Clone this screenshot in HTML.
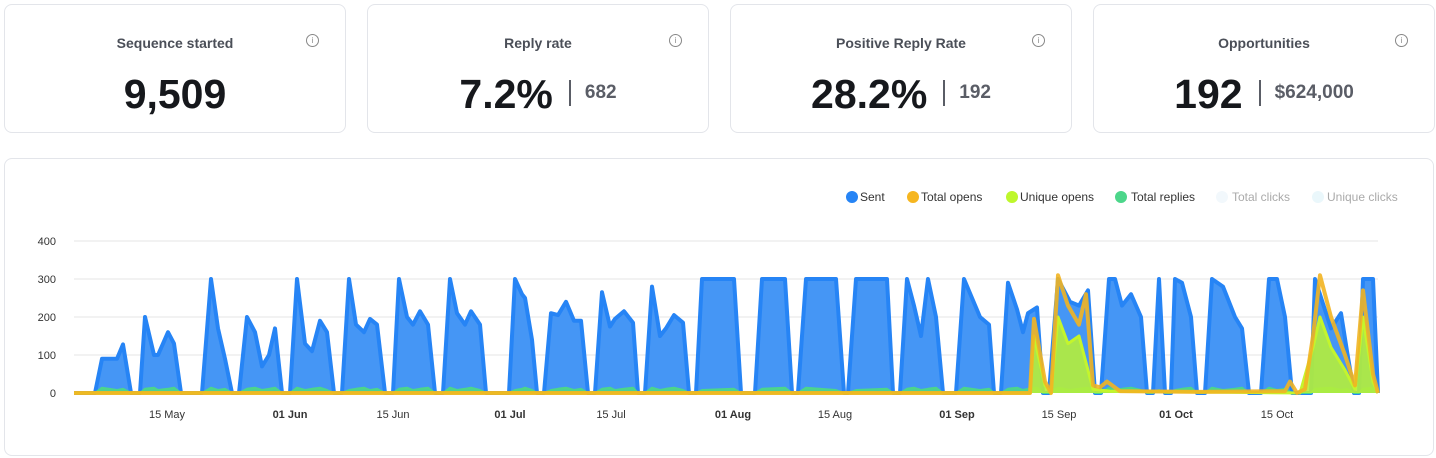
<!DOCTYPE html>
<html><head><meta charset="utf-8"><style>
body{margin:0;width:1436px;height:458px;background:#fff;font-family:"Liberation Sans",sans-serif;position:relative;overflow:hidden}
.card{position:absolute;top:4px;width:342px;height:129px;border:1px solid #e3e5ea;border-radius:8px;box-sizing:border-box;background:#fff}
.t{position:absolute;top:30px;left:0;right:0;text-align:center;font-size:14px;font-weight:bold;color:#4b4f58}
.i{position:absolute;top:29px;right:26px;width:11px;height:11px;border:1px solid #888;border-radius:50%;font-size:8px;line-height:11px;text-align:center;color:#888}
.v{position:absolute;top:66px;left:0;right:0;text-align:center;font-size:41px;font-weight:bold;color:#16181c;white-space:nowrap}
.v span.s{font-size:19px;color:#5a5d66;vertical-align:middle;position:relative;top:-4px}
.v span.b{display:inline-block;width:2px;height:26px;background:#5a5d66;margin:0 14px 0 16px;vertical-align:middle;position:relative;top:-4px}
.chart{position:absolute;left:4px;top:158px;width:1430px;height:298px;border:1px solid #e3e5ea;border-radius:8px;box-sizing:border-box}
</style></head><body>
<div class="card" style="left:4px"><div class="t">Sequence started</div><div class="i">i</div><div class="v">9,509</div></div>
<div class="card" style="left:367px"><div class="t">Reply rate</div><div class="i">i</div><div class="v">7.2%<span class="b"></span><span class="s">682</span></div></div>
<div class="card" style="left:730px"><div class="t">Positive Reply Rate</div><div class="i">i</div><div class="v">28.2%<span class="b"></span><span class="s">192</span></div></div>
<div class="card" style="left:1093px"><div class="t">Opportunities</div><div class="i">i</div><div class="v">192<span class="b"></span><span class="s">$624,000</span></div></div>
<div class="chart"></div>
<svg id="s" width="1436" height="458" style="position:absolute;left:0;top:0" font-family="Liberation Sans, sans-serif">
<g stroke="#e6e6e6" stroke-width="1">
<line x1="74" x2="1378" y1="241" y2="241"/><line x1="74" x2="1378" y1="279" y2="279"/><line x1="74" x2="1378" y1="317" y2="317"/><line x1="74" x2="1378" y1="355" y2="355"/>
</g>
<g font-size="11" fill="#333" text-anchor="end">
<text x="56" y="245">400</text><text x="56" y="283">300</text><text x="56" y="321">200</text><text x="56" y="359">100</text><text x="56" y="397">0</text>
</g>
<g id="series"></g>
<g font-size="11" fill="#333" text-anchor="middle">
<text x="167" y="418">15 May</text><text x="290" y="418" font-weight="bold">01 Jun</text><text x="393" y="418">15 Jun</text><text x="510" y="418" font-weight="bold">01 Jul</text><text x="611" y="418">15 Jul</text><text x="733" y="418" font-weight="bold">01 Aug</text><text x="835" y="418">15 Aug</text><text x="957" y="418" font-weight="bold">01 Sep</text><text x="1059" y="418">15 Sep</text><text x="1176" y="418" font-weight="bold">01 Oct</text><text x="1277" y="418">15 Oct</text>
</g>
<g font-size="12">
<circle cx="852" cy="197" r="6" fill="#2684f5"/><text x="860" y="201" fill="#333">Sent</text>
<circle cx="913" cy="197" r="6" fill="#f6b620"/><text x="921" y="201" fill="#333">Total opens</text>
<circle cx="1012" cy="197" r="6" fill="#bef72c"/><text x="1020" y="201" fill="#333">Unique opens</text>
<circle cx="1121" cy="197" r="6" fill="#4cd68a"/><text x="1131" y="201" fill="#333">Total replies</text>
<circle cx="1222" cy="197" r="6" fill="#f2f8fc"/><text x="1232" y="201" fill="#aaa">Total clicks</text>
<circle cx="1318" cy="197" r="6" fill="#eaf7fb"/><text x="1327" y="201" fill="#aaa">Unique clicks</text>
</g>
</svg>
<script>
function Y(v){return 393-v*0.38}
var sent=[[74,0],[95,0],[102,90],[117,90],[123,128],[131,0],[140,0],[145,200],[154,100],[158,100],[168,160],[174,130],[181,0],[202,0],[211,300],[218,170],[225,90],[232,0],[239,0],[247,200],[255,160],[262,70],[269,100],[275,170],[282,0],[290,0],[297,300],[305,130],[312,110],[320,190],[327,160],[334,0],[342,0],[349,300],[356,180],[364,160],[370,195],[377,180],[385,0],[393,0],[399,300],[407,200],[413,180],[420,215],[428,180],[435,0],[443,0],[450,300],[457,210],[465,180],[471,215],[480,180],[486,0],[509,0],[515,300],[522,260],[525,250],[532,140],[537,0],[544,0],[551,210],[558,205],[566,240],[574,190],[581,190],[588,0],[595,0],[602,265],[610,175],[615,195],[624,215],[633,185],[638,0],[645,0],[652,280],[660,150],[666,170],[674,205],[683,185],[689,0],[696,0],[702,300],[734,300],[741,0],[755,0],[762,300],[785,300],[792,0],[798,0],[806,300],[836,300],[844,0],[848,0],[856,300],[887,300],[893,0],[900,0],[907,300],[914,230],[921,150],[928,300],[936,200],[943,0],[956,0],[964,300],[980,200],[989,180],[994,0],[1001,0],[1008,290],[1017,220],[1023,160],[1028,210],[1037,225],[1043,0],[1049,0],[1058,300],[1070,240],[1079,230],[1088,270],[1095,0],[1101,0],[1109,300],[1115,300],[1122,230],[1131,260],[1141,200],[1147,0],[1153,0],[1159,300],[1165,0],[1171,0],[1175,300],[1182,290],[1191,200],[1197,0],[1205,0],[1212,300],[1223,280],[1235,200],[1242,170],[1249,0],[1261,0],[1269,300],[1277,300],[1285,200],[1292,0],[1311,0],[1315,300],[1331,170],[1341,210],[1347,110],[1354,0],[1359,0],[1363,300],[1373,300],[1378,0]];
var uo=[[74,0],[1030,0],[1034,150],[1045,20],[1051,0],[1058,200],[1068,130],[1079,150],[1086,80],[1093,10],[1110,5],[1300,0],[1313,120],[1320,200],[1331,120],[1345,60],[1355,10],[1363,200],[1373,30],[1378,0]];
var to=[[74,0],[1030,0],[1034,195],[1045,30],[1051,0],[1058,310],[1068,230],[1079,180],[1086,260],[1093,20],[1100,15],[1107,30],[1120,5],[1200,3],[1285,5],[1290,30],[1297,0],[1305,10],[1313,150],[1320,310],[1331,200],[1345,100],[1355,20],[1363,270],[1373,50],[1378,0]];
var tr=sent.map(function(p,i){return [p[0],p[1]>0?(8+(i%3)*3):0]});
function pts(a){return a.map(function(p){return p[0]+','+Y(p[1]).toFixed(1)}).join(' ')}
function area(a,fill,stroke,w,op){var p=pts(a);return '<polygon points="74,393 '+p+' 1378,393" fill="'+fill+'" fill-opacity="'+op+'"/><polyline points="'+p+'" fill="none" stroke="'+stroke+'" stroke-width="'+w+'" stroke-linejoin="round"/>';}
document.getElementById('series').innerHTML=area(sent,'#4596f5','#2684f5',4,1)+area(tr,'#4cd68a','#4cd68a',2,0.9)+area(uo,'#b5ee3a','#c4f52c',3,0.9)+'<polyline points="'+pts(to)+'" fill="none" stroke="#f2b421" stroke-width="4" stroke-linejoin="round" stroke-opacity="0.9"/>';
</script>
</body></html>
